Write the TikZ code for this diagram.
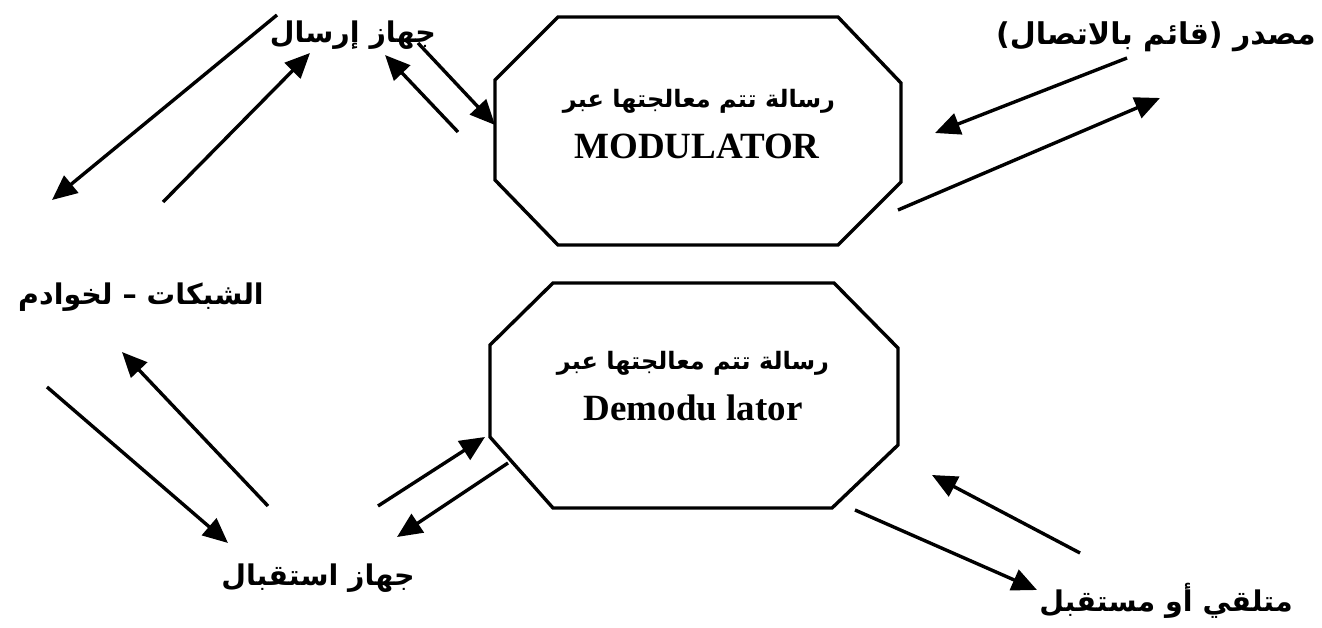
\documentclass[tikz,border=0pt]{standalone}
\usepackage{fontspec}
\setmainfont{Liberation Serif}
\newfontfamily\arabicfont[Script=Arabic]{DejaVu Sans}
\TeXXeTstate=1
\usetikzlibrary{arrows.meta}
\tikzset{
  octa/.style={line width=3.4pt, line join=miter},
  conn/.style={line width=3.4pt, -{Triangle[length=25pt,width=22pt]}},
  arlabel/.style={inner sep=0pt, font=\arabicfont\bfseries\fontsize{28.5}{32}\selectfont},
  intext/.style={inner sep=0pt, font=\arabicfont\bfseries\fontsize{24}{28}\selectfont},
  entext/.style={inner sep=0pt, font=\bfseries\fontsize{37}{40}\selectfont}
}
\begin{document}
\begin{tikzpicture}[x=1pt,y=-1pt]
\useasboundingbox (0,0) rectangle (1322,628);
% octagons
\draw[octa] (558,17)--(838,17)--(901,83)--(901,182)--(838,245)--(558,245)--(495,180)--(495,80)--cycle;
\draw[octa] (553,283)--(834,283)--(898,348)--(898,445)--(832,508)--(553,508)--(490,437)--(490,345)--cycle;
% octagon texts
\node[intext] (modar) at (699,101) {\beginR رسالة تتم معالجتها عبر\endR};
\node[entext] (mod) at (697,146) {MODULATOR};
\node[intext] (demar) at (693,363) {\beginR رسالة تتم معالجتها عبر\endR};
\node[entext] (demod) at (693,408) {Demodu lator};
% labels
\node[arlabel] (send) at (353,35) {\beginR جهاز إرسال\endR};
\node[arlabel, font=\arabicfont\bfseries\fontsize{30}{34}\selectfont] (src) at (1156,37) {\beginR مصدر (قائم بالاتصال)\endR};
\node[arlabel] (net) at (141,297) {\beginR الشبكات – لخوادم\endR};
\node[arlabel] (recv) at (318,578) {\beginR جهاز استقبال\endR};
\node[arlabel] (dest) at (1166,601) {\beginR متلقي أو مستقبل\endR};
% arrow end points
\coordinate (a1s) at (277,15);  \coordinate (a1e) at (52,200);
\coordinate (a2s) at (163,202); \coordinate (a2e) at (310,53);
\coordinate (a3s) at (458,132); \coordinate (a3e) at (385,55);
\coordinate (a4s) at (418,43);  \coordinate (a4e) at (495,125);
\coordinate (a5s) at (1127,58); \coordinate (a5e) at (935,133);
\coordinate (a6s) at (898,210); \coordinate (a6e) at (1160,98);
\coordinate (a7s) at (268,506); \coordinate (a7e) at (122,352);
\coordinate (a8s) at (47,387);  \coordinate (a8e) at (228,543);
\coordinate (a9s) at (378,506); \coordinate (a9e) at (485,437);
\coordinate (a10s) at (508,463); \coordinate (a10e) at (397,537);
\coordinate (a11s) at (1080,553); \coordinate (a11e) at (932,475);
\coordinate (a12s) at (855,510); \coordinate (a12e) at (1037,590);
\foreach \i in {1,...,12} {\draw[conn] (a\i s) -- (a\i e);}
\end{tikzpicture}
\end{document}
